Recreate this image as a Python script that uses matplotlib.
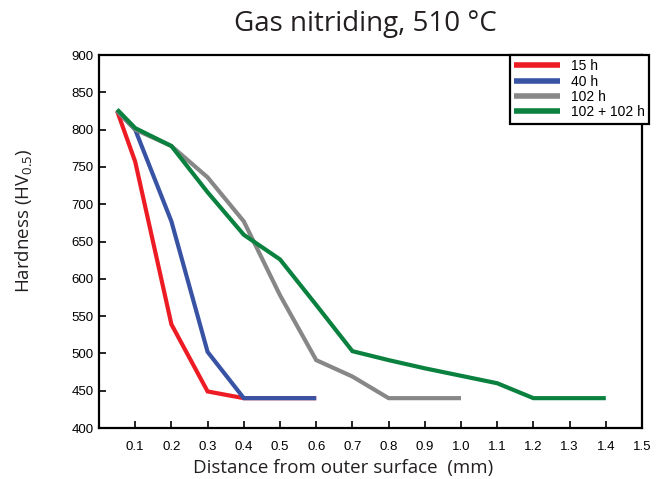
import matplotlib
matplotlib.use("Agg")
import matplotlib.pyplot as plt

# Data
x_15 = [0.05, 0.1, 0.2, 0.3, 0.4, 0.6]
y_15 = [825, 757, 539, 449, 440, 440]
x_40 = [0.05, 0.1, 0.2, 0.3, 0.4, 0.6]
y_40 = [825, 800, 677, 502, 440, 440]
x_102 = [0.05, 0.1, 0.2, 0.3, 0.4, 0.5, 0.6, 0.7, 0.8, 1.0]
y_102 = [825, 800, 778, 736, 677, 578, 491, 469, 440, 440]
x_204 = [0.05, 0.1, 0.2, 0.3, 0.4, 0.5, 0.6, 0.7, 0.8, 0.9, 1.0, 1.1, 1.2, 1.4]
y_204 = [827, 802, 778, 716, 659, 626, 565, 503, 491, 480, 470, 460, 440, 440]
labels = ["15 h", "40 h", "102 h", "102 + 102 h"]
colors = ["#ED1C24", "#3953A4", "#878787", "#0B8140"]
xticks = [0.1, 0.2, 0.3, 0.4, 0.5, 0.6, 0.7, 0.8, 0.9, 1.0, 1.1, 1.2, 1.3, 1.4, 1.5]
yticks = [400, 450, 500, 550, 600, 650, 700, 750, 800, 850, 900]

plt.rcParams['mathtext.default'] = 'regular'
fig = plt.figure(figsize=(6.62, 4.79), dpi=100)
ax = fig.add_axes([99/662, 1-428/479, (642-99)/662, (428-55)/479])

series = [(x_15, y_15), (x_40, y_40), (x_102, y_102), (x_204, y_204)]
for i, (xs, ys) in enumerate(series):
    ax.plot(xs, ys, color=colors[i], lw=3.0, label=labels[i], solid_joinstyle='miter', solid_capstyle='butt')

ax.set_xlim(0, 1.5)
ax.set_ylim(400, 900)
ax.set_xticks(xticks)
ax.set_xticklabels([f"{t:.1f}" for t in xticks], fontfamily="Liberation Sans", fontsize=9.5)
ax.set_yticks(yticks)
ax.set_yticklabels([str(t) for t in yticks], fontfamily="Liberation Sans", fontsize=9.5)
ax.tick_params(direction='in', length=5, width=1.2, colors='black')
ax.tick_params(axis='x', pad=9)
ax.tick_params(axis='y', pad=4)
for s in ax.spines.values():
    s.set_linewidth(1.6)

fig.text(0.552, 0.950, "Gas nitriding, 510 °C", ha='center', va='center',
         fontsize=20, fontfamily="Open Sans", color="#231F20")
fig.text(0.518, 0.023, "Distance from outer surface  (mm)", ha='center', va='center',
         fontsize=13.5, fontfamily="Open Sans", color="#231F20")
fig.text(0.035, 0.54, "Hardness (HV$_{0.5}$)", ha='center', va='center', rotation=90,
         fontsize=13.5, fontfamily="Open Sans", color="#231F20")

leg = ax.legend(loc='upper right', bbox_to_anchor=(649/662, 1-55/479), bbox_transform=fig.transFigure,
                frameon=True, fancybox=False, edgecolor='black', framealpha=1,
                prop={'family': 'Liberation Sans', 'size': 10}, handlelength=3.3,
                borderpad=0.3, labelspacing=0.1, handletextpad=0.8, borderaxespad=0)
leg.get_frame().set_linewidth(1.6)
for h in leg.get_lines():
    h.set_linewidth(4)

fig.savefig("out.png", dpi=100)
